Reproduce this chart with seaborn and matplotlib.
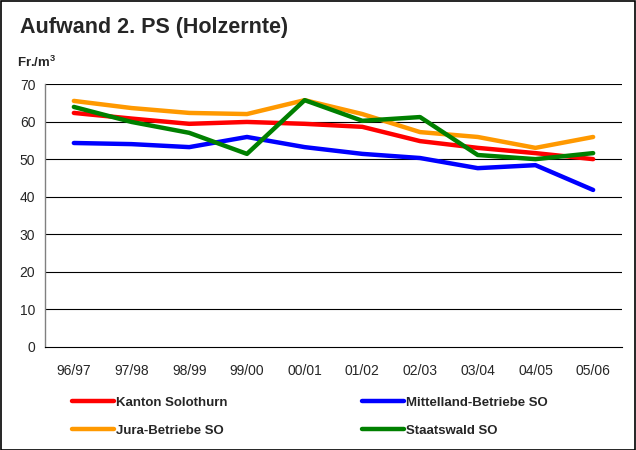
import numpy as np
import pandas as pd
import matplotlib
matplotlib.use("Agg")
import matplotlib.pyplot as plt
import seaborn as sns

# Jahre und Werte (Fr./m3)
years = ["96/97", "97/98", "98/99", "99/00", "00/01",
         "01/02", "02/03", "03/04", "04/05", "05/06"]
kanton = [62.3, 60.8, 59.4, 59.9, 59.4, 58.6, 54.8, 53.0, 51.6, 50.0]
mittelland = [54.3, 54.0, 53.2, 55.9, 53.2, 51.4, 50.3, 47.6, 48.4, 41.8]
jura = [65.5, 63.6, 62.3, 62.0, 65.7, 62.0, 57.2, 55.9, 53.0, 55.9]
staatswald = [63.9, 59.9, 57.0, 51.4, 65.7, 60.2, 61.2, 51.1, 50.0, 51.6]

series = ["Kanton Solothurn", "Mittelland-Betriebe SO",
          "Jura-Betriebe SO", "Staatswald SO"]
colors = ["#ff0000", "#0000ff", "#ff9900", "#008000"]


def buildFrame():
    rows = []
    for name, vals in zip(series, [kanton, mittelland, jura, staatswald]):
        for i, v in enumerate(vals):
            rows.append({"pos": i, "Jahr": years[i], "Wert": v, "Serie": name})
    return pd.DataFrame(rows)


def drawChart(df):
    sns.set_style("white")
    plt.rcParams["font.family"] = ["Liberation Sans", "DejaVu Sans"]

    fig = plt.figure(figsize=(6.36, 4.5), dpi=100)
    ax = fig.add_axes([45 / 636, 1 - 347 / 450, 577 / 636, 263 / 450])

    sns.lineplot(data=df, x="pos", y="Wert", hue="Serie", hue_order=series,
                 palette=colors, linewidth=3.2, ax=ax, legend=False)

    ax.set_xlim(-0.5, len(years) - 0.5)
    ax.set_ylim(0, 70)
    ax.set_yticks(range(0, 71, 10))
    ax.set_xticks(np.arange(len(years)))
    ax.set_xticklabels(years)
    ax.set_xticks(np.arange(-0.5, len(years), 1), minor=True)
    ax.tick_params(axis="x", which="major", length=0, pad=12, labelsize=10)
    ax.tick_params(axis="x", which="minor", length=5, width=0.8,
                   direction="out", color="black")
    ax.tick_params(axis="y", length=4, width=0.8, direction="out",
                   color="black", labelsize=10, pad=3)
    ax.set_xlabel("")
    ax.set_ylabel("")
    for y in range(10, 71, 10):
        ax.axhline(y, color="black", linewidth=0.8, zorder=0)
    for s in ["top", "right"]:
        ax.spines[s].set_visible(False)
    ax.spines["left"].set_color("#808080")
    ax.spines["left"].set_linewidth(1.0)
    ax.spines["bottom"].set_color("black")
    ax.spines["bottom"].set_linewidth(0.8)

    fig.text(20 / 636, 1 - 28 / 450, "Aufwand 2. PS (Holzernte)",
             fontsize=15.5, fontweight="bold", va="center")
    fig.text(17 / 636, 1 - 62 / 450, "Fr./m$^\\mathregular{3}$",
             fontsize=9.5, fontweight="bold", va="center")

    # Legende unten, zwei Spalten (spaltenweise gefuellt)
    order = [0, 2, 1, 3]
    handles = [plt.Line2D([], [], color=colors[i], linewidth=3.2) for i in order]
    labels = [series[i] for i in order]
    fig.legend(handles, labels, loc="upper left", ncol=2,
               bbox_to_anchor=(60 / 636, 1 - 385 / 450),
               frameon=False, handlelength=3.2, handletextpad=0.15,
               columnspacing=10.2, labelspacing=1.15,
               prop={"weight": "bold", "size": 9.5})

    border = plt.Rectangle((0.001, 0.001), 0.997, 0.997, transform=fig.transFigure,
                           fill=False, edgecolor="black", linewidth=1.2)
    fig.patches.append(border)

    fig.savefig("out.png", dpi=100)


if __name__ == "__main__":
    df = buildFrame()
    drawChart(df)
